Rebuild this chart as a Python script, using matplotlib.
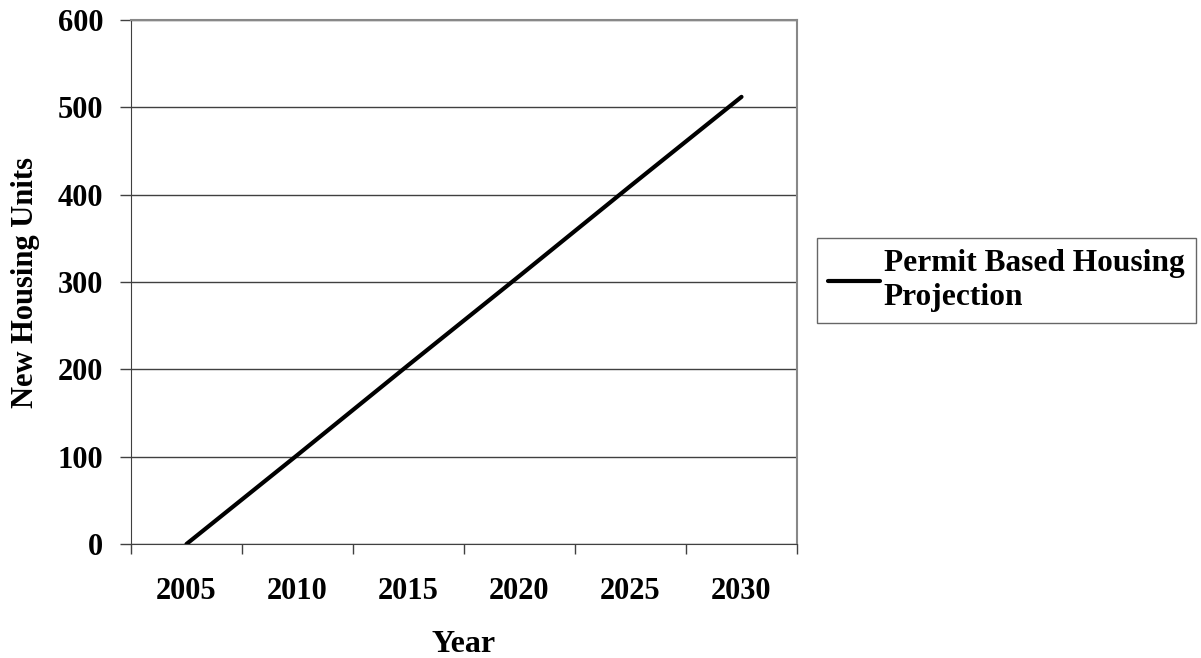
import matplotlib
matplotlib.use("Agg")
import matplotlib.pyplot as plt
import numpy as np

years = ["2005", "2010", "2015", "2020", "2025", "2030"]
housing_units = [0, 102, 205, 307, 410, 512]
y_ticks = [0, 100, 200, 300, 400, 500, 600]

plt.rcParams["font.family"] = ["Liberation Serif", "DejaVu Serif"]
plt.rcParams["font.weight"] = "bold"
FS = 22

fig = plt.figure(figsize=(12.01, 6.58), dpi=100)
ax = fig.add_axes([131 / 1201, 1 - 544 / 658, (797 - 131) / 1201, (544 - 20) / 658])

# categories sit in the middle of each slot, ticks mark the slot edges
pos = np.arange(len(years)) + 0.5
ax.plot(pos, housing_units, color="black", lw=3.0, solid_capstyle="round",
        label="Permit Based Housing\nProjection", zorder=3)

ax.set_xlim(0, len(years))
ax.set_ylim(0, 600)
ax.set_xticks(np.arange(len(years) + 1))
ax.set_xticklabels([])
ax.set_xticks(pos, minor=True)
ax.set_xticklabels(years, minor=True, fontsize=FS, fontweight="bold")
ax.tick_params(axis="x", which="major", direction="out", length=7, width=1, color="#404040")
ax.tick_params(axis="x", which="minor", length=0, pad=24)

ax.set_yticks(y_ticks)
ax.set_yticklabels([str(v) for v in y_ticks], fontsize=FS, fontweight="bold")
ax.tick_params(axis="y", direction="out", length=8, width=1, color="#404040", pad=12)

ax.grid(axis="y", color="#404040", lw=1)
ax.set_axisbelow(True)

for side in ["top", "right"]:
    ax.spines[side].set_color("#888888")
    ax.spines[side].set_linewidth(1.5)
ax.spines["left"].set_color("#404040")
ax.spines["bottom"].set_color("#404040")

ax.set_xlabel("Year", fontsize=FS + 1, fontweight="bold", labelpad=17)
ax.set_ylabel("New Housing Units", fontsize=FS, fontweight="bold", labelpad=13)

leg = fig.legend(loc="upper left", bbox_to_anchor=(817 / 1201, 1 - 238 / 658),
                 frameon=True, fancybox=False, handlelength=1.65, handletextpad=0.12,
                 borderpad=0.36, borderaxespad=0, prop={"weight": "bold", "size": 22.6})
leg.get_frame().set_edgecolor("#404040")
leg.get_frame().set_linewidth(1)
for t in leg.get_texts():
    t.set_linespacing(1.2)

fig.savefig("out.png", dpi=100)
